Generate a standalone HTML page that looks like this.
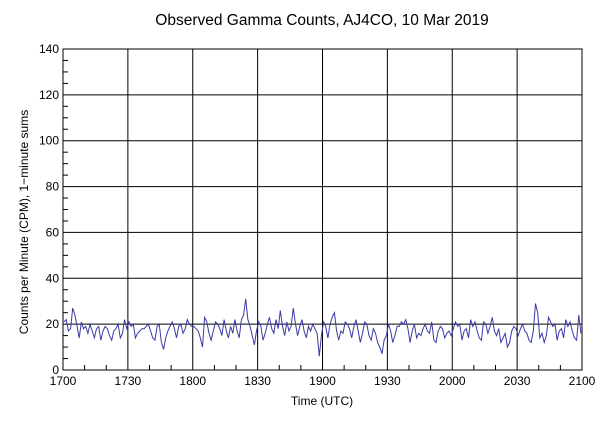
<!DOCTYPE html>
<html><head><meta charset="utf-8"><style>
body{margin:0;background:#fff;}
svg{display:block;font-family:"Liberation Sans",sans-serif;}
</style></head><body>
<svg id="chart" width="600" height="428">
<text x="322" y="25" text-anchor="middle" font-size="15.5">Observed Gamma Counts, AJ4CO, 10 Mar 2019</text>
<text x="322" y="405" text-anchor="middle" font-size="12">Time (UTC)</text>
<text transform="translate(28,222) rotate(-90)" text-anchor="middle" font-size="12">Counts per Minute (CPM), 1−minute sums</text>
<g id="grid"></g><g id="ticks"></g><g id="series"></g>
<rect x="63" y="49" width="519" height="321" fill="none" stroke="#000"/>
</svg>
<script>
const xTickLabels=["1700","1730","1800","1830","1900","1930","2000","2030","2100"];
const yTickLabels=[0,20,40,60,80,100,120,140];
const counts=[
21,22,17,18,27,24,19,14,21,18,
19,16,20,17,14,18,19,13,17,19,
18,15,13,17,18,20,14,16,22,18,
21,19,20,14,16,17,18,18,19,20,
17,14,13,19,20,12,9,14,17,19,
21,18,14,19,20,16,18,22,20,19,
19,18,17,14,10,23,21,16,13,17,
21,20,18,15,22,17,14,19,16,22,
17,14,22,24,31,22,19,15,11,17,
21,19,13,16,20,23,18,16,22,18,
26,19,15,21,17,19,27,20,15,19,
22,17,14,19,17,20,18,16,6,15,
21,19,14,20,23,25,17,13,17,16,
21,20,18,14,19,22,17,12,16,21,
20,15,13,18,16,12,10,7,13,15,
20,17,12,15,19,19,21,20,22,18,
12,17,20,14,16,15,18,20,17,16,
21,13,12,17,19,18,14,16,17,15,
18,21,19,20,13,17,18,14,22,19,
21,17,14,13,21,20,16,19,23,17,
15,18,12,14,16,10,12,17,19,18,
15,18,20,17,16,13,12,17,29,25,
14,16,12,15,23,21,19,20,13,17,
18,14,22,19,21,17,14,13,24,16];
const X0=63,X1=582,Y0=370,Y1=49,XMIN=0,XMAX=240,YMAX=140;
const xs=m=>X0+(m-XMIN)/(XMAX-XMIN)*(X1-X0);
const ys=v=>Y0-v/YMAX*(Y0-Y1);
const NS="http://www.w3.org/2000/svg";
function mk(tag,attrs,parent){const e=document.createElementNS(NS,tag);for(const k in attrs)e.setAttribute(k,attrs[k]);parent.appendChild(e);return e;}
const grid=document.getElementById('grid'),ticks=document.getElementById('ticks'),series=document.getElementById('series');
xTickLabels.forEach((t,i)=>{const x=xs(i*30);
 const l=mk('line',{x1:x,x2:x,y1:Y1,y2:Y0,stroke:'#000','stroke-width':1},grid);
 
 
 const tx=mk('text',{x:x,y:Y0+15,'text-anchor':'middle','font-size':12},ticks);
 tx.textContent=t;
 
 
});
for(let m=10;m<240;m+=10){if(m%30){const x=xs(m);mk('line',{x1:x,x2:x,y1:Y0,y2:Y0-5,stroke:'#000'},ticks);}}
yTickLabels.forEach(v=>{const y=ys(v);
 const l=mk('line',{x1:X0,x2:X1,y1:y,y2:y,stroke:'#000','stroke-width':1},grid);
 
 
 const tx=mk('text',{x:X0-4,y:y+4,'text-anchor':'end','font-size':12},ticks);
 tx.textContent=v;
 
 
});
for(let v=5;v<140;v+=5){if(v%20){const y=ys(v);mk('line',{x1:X0,x2:X0+5,y1:y,y2:y,stroke:'#000'},ticks);}}
const pts=counts.map((c,i)=>xs(i+0.5).toFixed(1)+','+ys(c).toFixed(1)).join(' ');
const pl=mk('polyline',{points:pts,fill:'none',stroke:'#3a3aa8','stroke-width':1},series);


</script>
</body></html>
